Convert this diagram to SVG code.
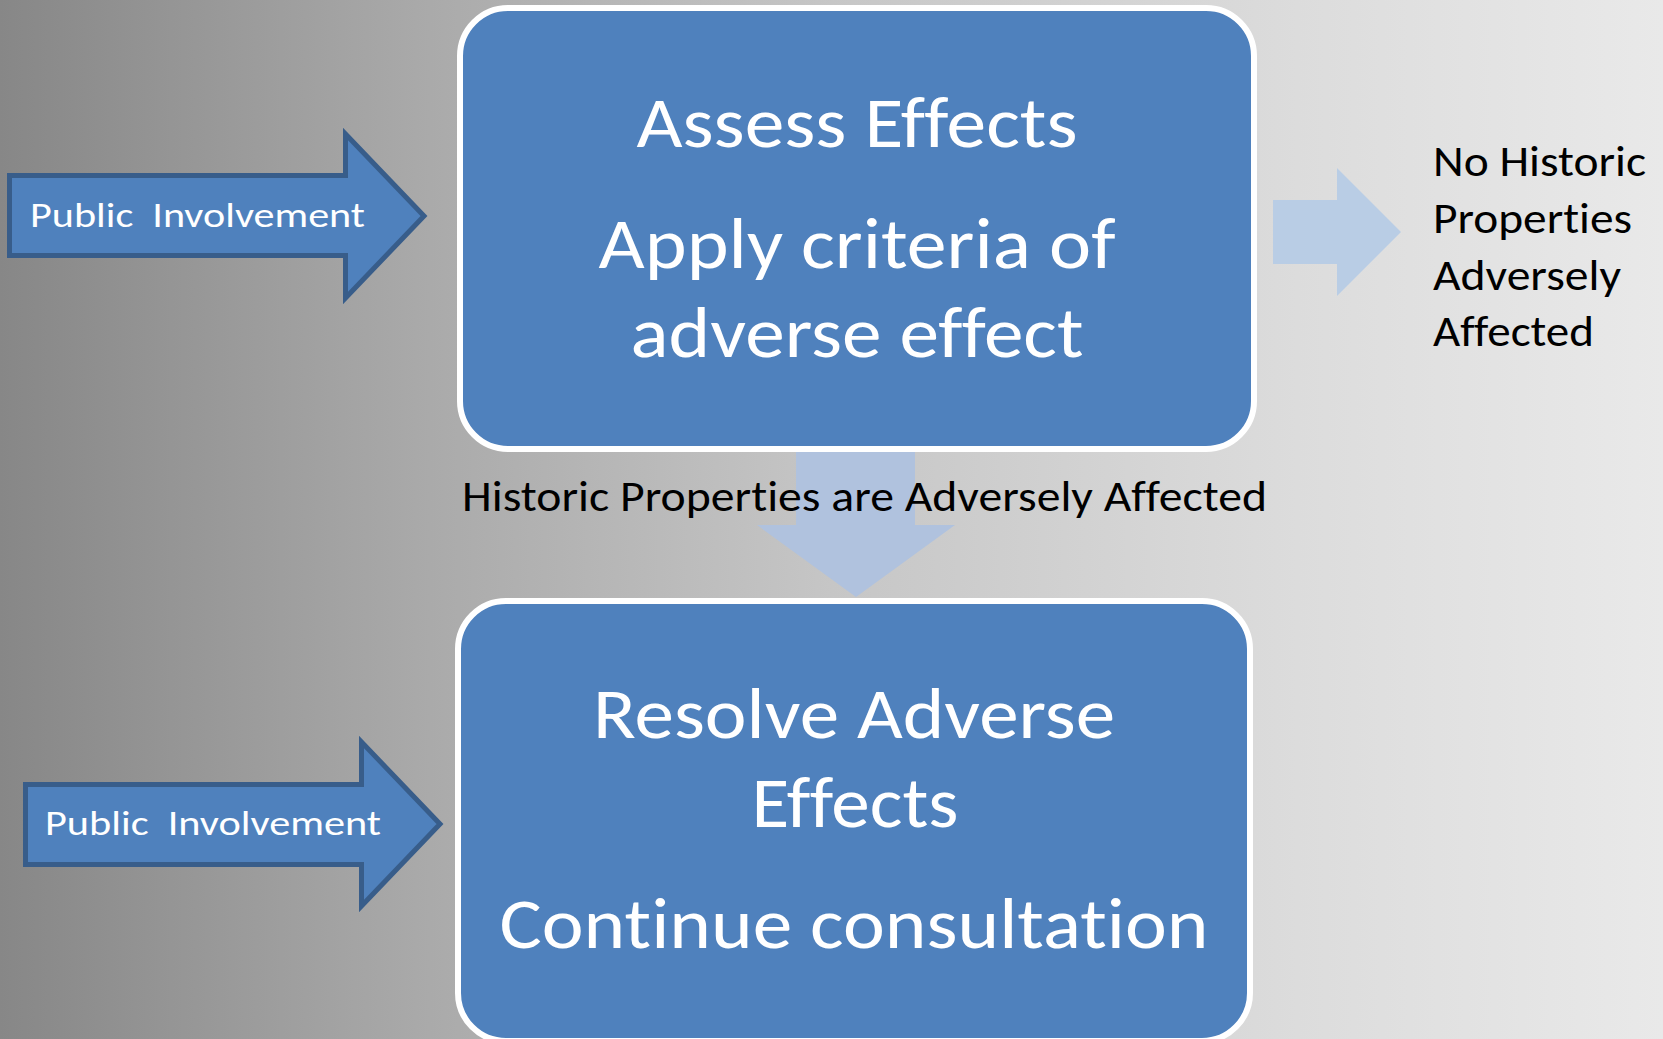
<svg xmlns="http://www.w3.org/2000/svg" width="1663" height="1039" viewBox="0 0 1663 1039">
  <defs>
    <linearGradient id="bg" x1="0" y1="0" x2="1" y2="0">
      <stop offset="0" stop-color="#878787"/>
      <stop offset="0.25" stop-color="#A9A9A9"/>
      <stop offset="0.5" stop-color="#C6C6C6"/>
      <stop offset="0.78" stop-color="#DCDCDC"/>
      <stop offset="1" stop-color="#E9E9E9"/>
    </linearGradient>
    <style>
      text { font-variant-ligatures: none; font-feature-settings: "liga" 0, "clig" 0; }
      .box { fill: #4F81BD; stroke: #FFFFFF; stroke-width: 6; }
      .pi { fill: #4F81BD; stroke: #385D8A; stroke-width: 5; stroke-linejoin: miter; }
      .big { font-family: Carlito, Lato, "Open Sans", sans-serif; font-size: 71px; fill: #FFFFFF; text-anchor: middle; }
      .pitxt { font-family: Carlito, Lato, "Open Sans", sans-serif; font-size: 35px; fill: #FFFFFF; }
      .lbl { font-family: Carlito, Lato, "Open Sans", sans-serif; font-size: 44px; fill: #000000; }
    </style>
  </defs>
  <rect x="0" y="0" width="1663" height="1039" fill="url(#bg)"/>

  <g id="connectors">
    <polygon id="arrow-down" points="796,449 915,449 915,525 955,525 856,597 757,525 796,525" fill="#B0C2DE"/>
    <polygon id="arrow-right" points="1273,200 1337,200 1337,168 1401,232 1337,296 1337,264 1273,264" fill="#B9CDE5"/>
  </g>

  <g id="node-assess">
    <rect class="box" x="460" y="8" width="794" height="441" rx="48" ry="48"/>
    <text class="big" x="857" y="147" textLength="441" lengthAdjust="spacingAndGlyphs">Assess Effects</text>
    <text class="big" x="857" y="268" textLength="517" lengthAdjust="spacingAndGlyphs">Apply criteria of</text>
    <text class="big" x="857" y="357" textLength="453" lengthAdjust="spacingAndGlyphs">adverse effect</text>
  </g>

  <g id="node-resolve">
    <rect class="box" x="458" y="601" width="792" height="440" rx="48" ry="48"/>
    <text class="big" x="854" y="738" textLength="522" lengthAdjust="spacingAndGlyphs">Resolve Adverse</text>
    <text class="big" x="855" y="827" textLength="207" lengthAdjust="spacingAndGlyphs">Effects</text>
    <text class="big" x="854" y="948" textLength="709" lengthAdjust="spacingAndGlyphs">Continue consultation</text>
  </g>

  <g id="node-public-1">
    <polygon class="pi" points="9.5,175.5 345.5,175.5 345.5,134 424,216 345.5,298 345.5,255.5 9.5,255.5"/>
    <text class="pitxt" x="30" y="227" xml:space="preserve" textLength="335" lengthAdjust="spacingAndGlyphs">Public  Involvement</text>
  </g>

  <g id="node-public-2">
    <polygon class="pi" points="25.5,784.5 361.5,784.5 361.5,742 440,824 361.5,906 361.5,864.5 25.5,864.5"/>
    <text class="pitxt" x="45" y="835" xml:space="preserve" textLength="336" lengthAdjust="spacingAndGlyphs">Public  Involvement</text>
  </g>

  <g id="label-adverse">
    <text class="lbl" x="462" y="511" textLength="805" lengthAdjust="spacingAndGlyphs">Historic Properties are Adversely Affected</text>
  </g>

  <g id="label-no-historic">
    <text class="lbl" x="1433" y="176" textLength="213" lengthAdjust="spacingAndGlyphs">No Historic</text>
    <text class="lbl" x="1433" y="233" textLength="199" lengthAdjust="spacingAndGlyphs">Properties</text>
    <text class="lbl" x="1433" y="290" textLength="188" lengthAdjust="spacingAndGlyphs">Adversely</text>
    <text class="lbl" x="1433" y="346" textLength="161" lengthAdjust="spacingAndGlyphs">Affected</text>
  </g>
</svg>
